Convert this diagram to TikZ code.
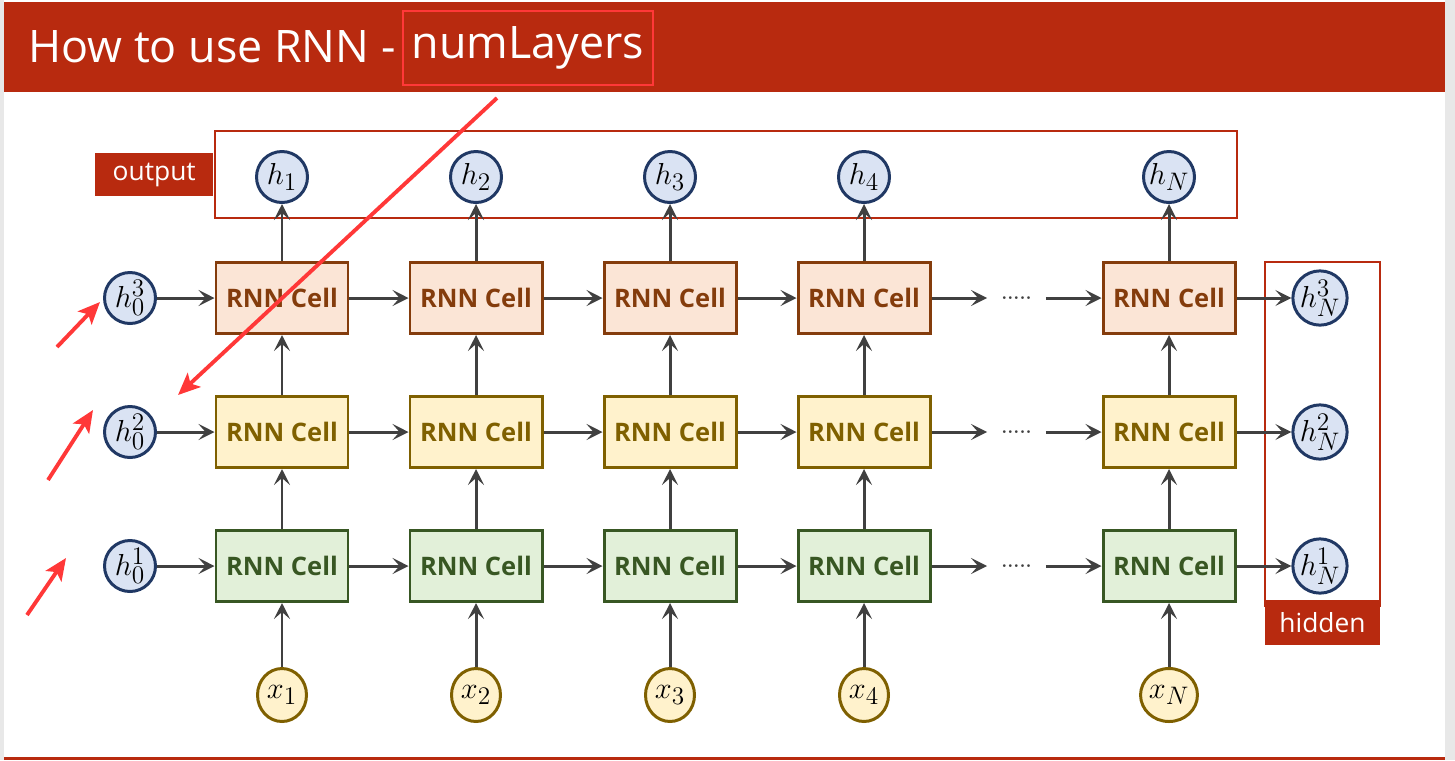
\documentclass[tikz,border=0pt]{standalone}
\usepackage{fontspec}
\setsansfont{Open Sans}
\usepackage{xcolor}
\definecolor{slidered}{HTML}{B82A0F}
\definecolor{markred}{HTML}{FF3838}
\definecolor{linkgray}{HTML}{404040}
\definecolor{hfill}{HTML}{DAE3F3}
\definecolor{hdraw}{HTML}{203864}
\definecolor{topfill}{HTML}{FBE5D6}
\definecolor{topdraw}{HTML}{843C0C}
\definecolor{midfill}{HTML}{FFF2CC}
\definecolor{middraw}{HTML}{7F6000}
\definecolor{lowfill}{HTML}{E2F0D9}
\definecolor{lowdraw}{HTML}{385723}
\usepackage{tikz}
\usetikzlibrary{positioning,arrows.meta,shapes.geometric}

\begin{document}
\begin{tikzpicture}[
    every node/.style={font=\sffamily},
    cell/.style={line width=1.7pt, minimum width=2.64cm, minimum height=1.42cm,
                 inner sep=0pt, font=\sffamily\bfseries\fontsize{14.5}{16}\selectfont},
    topcell/.style={cell, draw=topdraw, fill=topfill, text=topdraw},
    midcell/.style={cell, draw=middraw, fill=midfill, text=middraw},
    lowcell/.style={cell, draw=lowdraw, fill=lowfill, text=lowdraw},
    hid/.style={circle, draw=hdraw, fill=hfill, line width=1.7pt,
                minimum size=1.02cm, inner sep=0pt, font=\fontsize{19}{21}\selectfont},
    inp/.style={ellipse, draw=middraw, fill=midfill, line width=1.7pt,
                minimum width=0.98cm, minimum height=1.06cm, inner sep=0pt,
                font=\fontsize{19}{21}\selectfont},
    tag/.style={fill=slidered, text=white, inner sep=0pt,
                font=\sffamily\fontsize{15}{17}\selectfont},
    frame/.style={draw=slidered, line width=1.6pt, inner sep=0pt},
    gapdots/.style={text=linkgray, inner xsep=0.28cm, inner ysep=0pt,
                    font=\bfseries\fontsize{11}{12}\selectfont},
    arr/.style={-{Stealth[length=3.2mm,width=3.2mm,inset=1.4mm]}, line width=1.7pt, draw=linkgray},
    redmark/.style={-{Stealth[length=4.4mm,width=3.8mm,inset=1mm]}, line width=2.2pt, draw=markred}]
  \useasboundingbox (0,0) rectangle (29.1,-15.2);
  \fill[gray!18] (0,0) rectangle (0.08,-15.2);
  \fill[gray!18] (28.90,0) rectangle (29.1,-15.2);
  \fill[slidered] (0.08,-0.04) rectangle (28.90,-1.84);
  \fill[slidered] (0.08,-15.14) rectangle (28.90,-15.2);
  \node[anchor=base west, text=white, inner sep=0pt, font=\sffamily\fontsize{25.5}{28}\selectfont] (ttl) at (0.56,-1.24) {How to use RNN -};
  \node[draw=markred, line width=1.3pt, minimum width=5cm, minimum height=1.48cm, inner sep=0pt,
        text=white, font=\sffamily\fontsize{25.5}{28}\selectfont] (numl) at (10.56,-0.96) {numLayers};
  \node[frame, minimum width=20.44cm, minimum height=1.74cm] (outbox) at (14.52,-3.49) {};
  \node[tag, anchor=east, minimum width=2.36cm, minimum height=0.86cm] (outlbl) at (outbox.west) {output};
  \node[frame, minimum width=2.30cm, minimum height=6.88cm] (hidbox) at (26.45,-8.68) {};
  \node[tag, minimum width=2.30cm, minimum height=0.90cm] (hidlbl) at (26.45,-12.45) {hidden};
  \node[hid] (o1) at (5.64,-3.54) {$h_1$};
  \node[hid] (o2) at (9.52,-3.54) {$h_2$};
  \node[hid] (o3) at (13.40,-3.54) {$h_3$};
  \node[hid] (o4) at (17.28,-3.54) {$h_4$};
  \node[hid] (o5) at (23.38,-3.54) {$h_N$};
  \node[hid] (h0c) at (2.60,-5.96) {$h_0^3$};
  \node[hid] (h0b) at (2.60,-8.64) {$h_0^2$};
  \node[hid] (h0a) at (2.60,-11.32) {$h_0^1$};
  \node[topcell] (c31) at (5.64,-5.96) {RNN Cell};
  \node[topcell] (c32) at (9.52,-5.96) {RNN Cell};
  \node[topcell] (c33) at (13.40,-5.96) {RNN Cell};
  \node[topcell] (c34) at (17.28,-5.96) {RNN Cell};
  \node[topcell] (c35) at (23.38,-5.96) {RNN Cell};
  \node[midcell] (c21) at (5.64,-8.64) {RNN Cell};
  \node[midcell] (c22) at (9.52,-8.64) {RNN Cell};
  \node[midcell] (c23) at (13.40,-8.64) {RNN Cell};
  \node[midcell] (c24) at (17.28,-8.64) {RNN Cell};
  \node[midcell] (c25) at (23.38,-8.64) {RNN Cell};
  \node[lowcell] (c11) at (5.64,-11.32) {RNN Cell};
  \node[lowcell] (c12) at (9.52,-11.32) {RNN Cell};
  \node[lowcell] (c13) at (13.40,-11.32) {RNN Cell};
  \node[lowcell] (c14) at (17.28,-11.32) {RNN Cell};
  \node[lowcell] (c15) at (23.38,-11.32) {RNN Cell};
  \node[gapdots] (g3) at (20.33,-5.96) {.....};
  \node[gapdots] (g2) at (20.33,-8.64) {.....};
  \node[gapdots] (g1) at (20.33,-11.32) {.....};
  \node[hid] (hNc) at (26.40,-5.96) {$h_N^3$};
  \node[hid] (hNb) at (26.40,-8.64) {$h_N^2$};
  \node[hid] (hNa) at (26.40,-11.32) {$h_N^1$};
  \node[inp] (x1) at (5.64,-13.90) {$x_1$};
  \node[inp] (x2) at (9.52,-13.90) {$x_2$};
  \node[inp] (x3) at (13.40,-13.90) {$x_3$};
  \node[inp] (x4) at (17.28,-13.90) {$x_4$};
  \node[inp] (x5) at (23.38,-13.90) {$x_N$};
  \draw[arr] (x1) -- (c11);
  \draw[arr] (x2) -- (c12);
  \draw[arr] (x3) -- (c13);
  \draw[arr] (x4) -- (c14);
  \draw[arr] (x5) -- (c15);
  \draw[arr] (c11) -- (c21);
  \draw[arr] (c12) -- (c22);
  \draw[arr] (c13) -- (c23);
  \draw[arr] (c14) -- (c24);
  \draw[arr] (c15) -- (c25);
  \draw[arr] (c21) -- (c31);
  \draw[arr] (c22) -- (c32);
  \draw[arr] (c23) -- (c33);
  \draw[arr] (c24) -- (c34);
  \draw[arr] (c25) -- (c35);
  \draw[arr] (c31) -- (o1);
  \draw[arr] (c32) -- (o2);
  \draw[arr] (c33) -- (o3);
  \draw[arr] (c34) -- (o4);
  \draw[arr] (c35) -- (o5);
  \draw[arr] (h0c) -- (c31);
  \draw[arr] (c31) -- (c32);
  \draw[arr] (c32) -- (c33);
  \draw[arr] (c33) -- (c34);
  \draw[arr] (c34) -- (g3);
  \draw[arr] (g3) -- (c35);
  \draw[arr] (c35) -- (hNc);
  \draw[arr] (h0b) -- (c21);
  \draw[arr] (c21) -- (c22);
  \draw[arr] (c22) -- (c23);
  \draw[arr] (c23) -- (c24);
  \draw[arr] (c24) -- (g2);
  \draw[arr] (g2) -- (c25);
  \draw[arr] (c25) -- (hNb);
  \draw[arr] (h0a) -- (c11);
  \draw[arr] (c11) -- (c12);
  \draw[arr] (c12) -- (c13);
  \draw[arr] (c13) -- (c14);
  \draw[arr] (c14) -- (g1);
  \draw[arr] (g1) -- (c15);
  \draw[arr] (c15) -- (hNa);
  \coordinate (m0s) at (9.94,-1.96);
  \coordinate (m0e) at (3.56,-7.90);
  \coordinate (m3s) at (1.14,-6.94);
  \coordinate (m3e) at (2.00,-6.04);
  \coordinate (m2s) at (0.96,-9.60);
  \coordinate (m2e) at (1.86,-8.20);
  \coordinate (m1s) at (0.54,-12.30);
  \coordinate (m1e) at (1.32,-11.16);
  \draw[redmark] (m0s) -- (m0e);
  \draw[redmark] (m3s) -- (m3e);
  \draw[redmark] (m2s) -- (m2e);
  \draw[redmark] (m1s) -- (m1e);
\end{tikzpicture}
\end{document}
